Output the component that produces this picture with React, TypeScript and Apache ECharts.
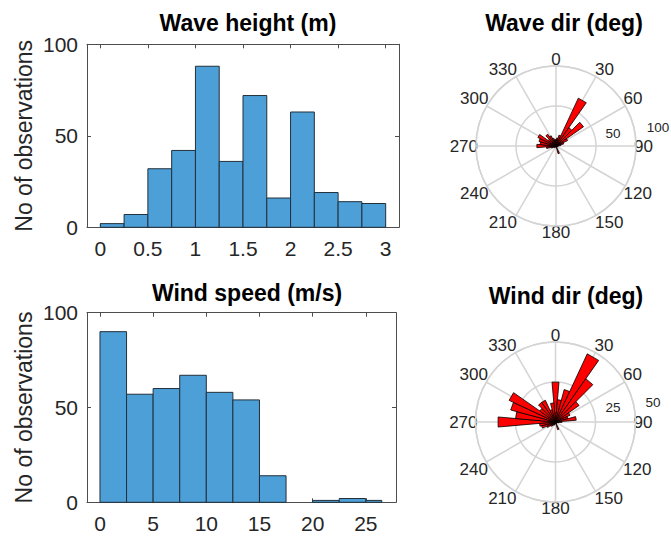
import React, { useEffect, useRef } from "react";
import * as echarts from "echarts";

// ---------- data ----------
const waveHeightEdges = [0, 0.25, 0.5, 0.75, 1, 1.25, 1.5, 1.75, 2, 2.25, 2.5, 2.75, 3];
const waveHeightCounts = [2, 7, 32, 42, 88, 36, 72, 16, 63, 19, 14, 13];
const waveHeightTicks = [0, 0.5, 1, 1.5, 2, 2.5, 3];

const windSpeedEdges = [0, 2.5, 5, 7.5, 10, 12.5, 15, 17.5, 20, 22.5, 25, 26.5];
const windSpeedCounts = [90, 57, 60, 67, 58, 54, 14, 0, 1, 2, 1];
const windSpeedTicks = [0, 5, 10, 15, 20, 25];

const countTicks = [0, 50, 100];

const dirBinCenters = [
  0, 10, 20, 30, 40, 50, 60, 70, 80, 90, 100, 110,
  120, 130, 140, 150, 160, 170, 180, 190, 200, 210, 220, 230,
  240, 250, 260, 270, 280, 290, 300, 310, 320, 330, 340, 350,
];
const waveDirCounts = [
  8, 10, 14, 66, 28, 42, 16, 10, 6, 3, 2, 0,
  0, 0, 0, 2, 10, 0, 0, 0, 0, 2, 2, 2,
  3, 6, 12, 24, 20, 22, 25, 12, 18, 14, 10, 8,
];
const windDirCounts = [
  25, 14, 21, 47, 33, 18, 10, 8, 13, 4, 2, 1,
  1, 0, 0, 1, 5, 0, 1, 1, 2, 2, 3, 4,
  6, 9, 10, 36, 25, 29, 32, 12, 15, 15, 8, 12,
];
const angleTickLabels = [0, 30, 60, 90, 120, 150, 180, 210, 240, 270, 300, 330];
const waveDirRings = [50, 100];
const windDirRings = [25, 50];

// ---------- styles ----------
const FONT = "'Liberation Sans', Arial, Helvetica, sans-serif";
const AX = "#4d4d4d";
const TXT = "#262626";
const BAR = "#4d9fd8";
const BAR_EDGE = "#22303a";
const GRID_GRAY = "#d4d4d4";

function histSeries(edges: number[], counts: number[], idx: number) {
  return {
    type: "custom",
    xAxisIndex: idx * 2,
    yAxisIndex: idx * 2,
    encode: { x: [0, 1], y: 2 },
    data: counts.map((c, i) => [edges[i], edges[i + 1], c]),
    renderItem: (_p: any, api: any) => {
      const x0 = api.value(0);
      const x1 = api.value(1);
      const y = api.value(2);
      if (!y) return { type: "group", children: [] };
      const a = api.coord([x0, y]);
      const b = api.coord([x1, 0]);
      return {
        type: "rect",
        shape: { x: a[0], y: a[1], width: b[0] - a[0], height: b[1] - a[1] },
        style: { fill: BAR, stroke: BAR_EDGE, lineWidth: 1 },
      };
    },
  };
}

function roseSeries(counts: number[], polarIndex: number) {
  const half = (dirBinCenters[1] - dirBinCenters[0]) / 2;
  return {
    type: "custom",
    coordinateSystem: "polar",
    polarIndex,
    encode: { radius: 0, angle: 1 },
    data: counts.map((c, i) => [c, dirBinCenters[i]]),
    renderItem: (_p: any, api: any) => {
      const r = api.value(0);
      const a = api.value(1);
      if (!r) return { type: "group", children: [] };
      const c = api.coord([0, a]);
      const p1 = api.coord([r, a - half]);
      const p2 = api.coord([r, a + half]);
      return {
        type: "polygon",
        shape: { points: [c, p1, p2] },
        style: { fill: "#ff0000", stroke: "#000000", lineWidth: 0.8 },
      };
    },
  };
}

function xAxes(min: number, max: number, ticks: number[], gridIndex: number) {
  const base = {
    type: "value",
    gridIndex,
    min,
    max,
    axisLine: { show: true, onZero: false, lineStyle: { color: AX, width: 1 } },
    axisTick: { show: true, inside: true, length: 4, lineStyle: { color: AX }, customValues: ticks },
    splitLine: { show: false },
  };
  return [
    {
      ...base,
      position: "bottom",
      axisLabel: { show: true, customValues: ticks, margin: 11, fontSize: 21, color: TXT, fontFamily: FONT },
    },
    { ...base, position: "top", axisLabel: { show: false } },
  ];
}

function yAxes(gridIndex: number) {
  const base = {
    type: "value",
    gridIndex,
    min: countTicks[0],
    max: countTicks[countTicks.length - 1],
    interval: countTicks[1] - countTicks[0],
    axisLine: { show: true, onZero: false, lineStyle: { color: AX, width: 1 } },
    axisTick: { show: true, inside: true, length: 4, lineStyle: { color: AX } },
    splitLine: { show: false },
  };
  return [
    {
      ...base,
      position: "left",
      name: "No of observations",
      nameLocation: "middle",
      nameGap: 52,
      nameTextStyle: { fontSize: 23, color: TXT, fontFamily: FONT },
      axisLabel: { show: true, margin: 9, fontSize: 21, color: TXT, fontFamily: FONT },
    },
    { ...base, position: "right", axisLabel: { show: false } },
  ];
}

function angleAxis(polarIndex: number) {
  return {
    polarIndex,
    type: "value",
    min: 0,
    max: 360,
    interval: angleTickLabels[1] - angleTickLabels[0],
    startAngle: 90,
    clockwise: true,
    axisLine: { show: true, lineStyle: { color: GRID_GRAY, width: 1.5 } },
    axisTick: { show: false },
    splitLine: { show: true, lineStyle: { color: GRID_GRAY, width: 1.5 } },
    axisLabel: {
      show: true,
      margin: -2,
      fontSize: 17,
      color: TXT,
      fontFamily: FONT,
      formatter: (v: number) => (angleTickLabels.indexOf(v) >= 0 ? String(v) : ""),
    },
  };
}

function radiusAxis(polarIndex: number, rings: number[]) {
  return {
    polarIndex,
    type: "value",
    min: 0,
    max: rings[rings.length - 1],
    interval: rings[0],
    axisLine: { show: false },
    axisTick: { show: false },
    axisLabel: { show: false },
    splitLine: { show: true, lineStyle: { color: GRID_GRAY, width: 1.5 } },
  };
}

function ringLabel(text: string, x: number, y: number) {
  return {
    type: "text",
    x,
    y,
    style: { text, fontSize: 13.5, fill: TXT, fontFamily: FONT, align: "center", verticalAlign: "middle" },
  };
}

const titleStyle = { fontSize: 23, fontWeight: "bold", color: "#000", fontFamily: FONT };

export default function App() {
  const ref = useRef<HTMLDivElement>(null);
  useEffect(() => {
    if (!ref.current) return;
    const chart = echarts.init(ref.current, null, { renderer: "svg" });
    const option: any = {
      animation: false,
      backgroundColor: "#ffffff",
      title: [
        { text: "Wave height (m)", left: 243, top: 6, textAlign: "center", textStyle: titleStyle },
        { text: "Wave dir (deg)", left: 559, top: 6, textAlign: "center", textStyle: titleStyle },
        { text: "Wind speed (m/s)", left: 242, top: 276, textAlign: "center", textStyle: titleStyle },
        { text: "Wind dir (deg)", left: 561, top: 279, textAlign: "center", textStyle: titleStyle },
      ],
      grid: [
        { left: 87, top: 44.3, width: 312, height: 183, containLabel: false, outerBoundsMode: "none" },
        { left: 87, top: 312.7, width: 309, height: 189.6, containLabel: false, outerBoundsMode: "none" },
      ],
      xAxis: [
        ...xAxes(-0.14, 3.14, waveHeightTicks, 0),
        ...xAxes(-1.22, 27.84, windSpeedTicks, 1),
      ],
      yAxis: [...yAxes(0), ...yAxes(1)],
      polar: [
        { center: [556, 146], radius: 80 },
        { center: [555.5, 422], radius: 80 },
      ],
      angleAxis: [angleAxis(0), angleAxis(1)],
      radiusAxis: [radiusAxis(0, waveDirRings), radiusAxis(1, windDirRings)],
      series: [
        histSeries(waveHeightEdges, waveHeightCounts, 0),
        histSeries(windSpeedEdges, windSpeedCounts, 1),
        roseSeries(waveDirCounts, 0),
        roseSeries(windDirCounts, 1),
      ],
      graphic: [
        ringLabel(String(waveDirRings[0]), 613, 133),
        ringLabel(String(waveDirRings[1]), 658, 127),
        ringLabel(String(windDirRings[0]), 613, 407),
        ringLabel(String(windDirRings[1]), 653, 402),
      ],
    };
    chart.setOption(option);
    return () => chart.dispose();
  }, []);
  return (
    <div
      ref={ref}
      style={{ position: "fixed", left: 0, top: 0, width: 671, height: 539, background: "#fff" }}
    />
  );
}
